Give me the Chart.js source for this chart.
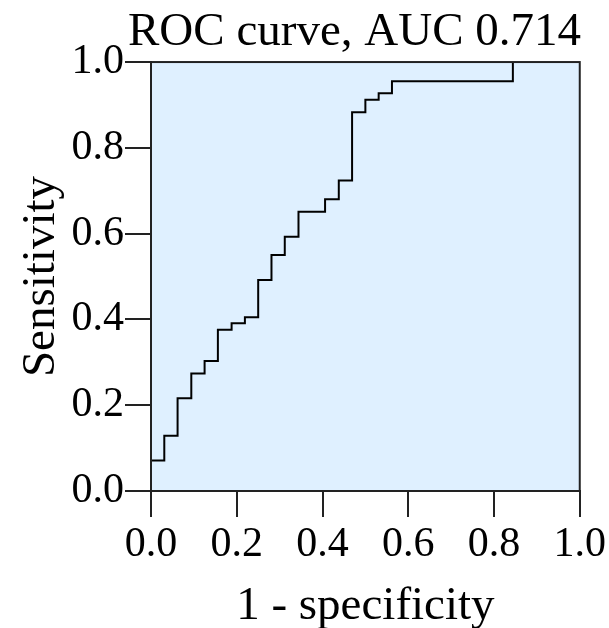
<!DOCTYPE html>
<html>
<head>
<meta charset="utf-8">
<script src="https://cdn.jsdelivr.net/npm/chart.js@4.4.1/dist/chart.umd.min.js"></script>
<style>
  html, body { margin: 0; padding: 0; background: #fff; }
  #wrap { position: relative; width: 609px; height: 628px; }
</style>
</head>
<body>
<div id="wrap"><canvas id="roc"></canvas></div>
<script>
// ROC points (corners of the step curve)
const fpr = [0, 0, 0.031, 0.062, 0.094, 0.125, 0.156, 0.188, 0.219, 0.25, 0.281, 0.312, 0.344, 0.406, 0.438, 0.469, 0.5, 0.531, 0.562, 0.844, 1.0];
const tpr = [0, 0.071, 0.129, 0.216, 0.274, 0.303, 0.376, 0.391, 0.405, 0.492, 0.55, 0.593, 0.651, 0.68, 0.724, 0.883, 0.912, 0.927, 0.955, 1.0, 1.0];
const tickValues = [0, 0.2, 0.4, 0.6, 0.8, 1.0];
const titleText = "ROC curve, AUC 0.714";

const serif = "'Liberation Serif', 'Times New Roman', serif";

// light blue plot background + frame
const plotFrame = {
    id: "plotFrame",
    beforeDatasetsDraw(chart) {
        const { ctx, chartArea: a } = chart;
        ctx.save();
        ctx.fillStyle = "#dff0ff";
        ctx.fillRect(a.left, a.top, a.right - a.left, a.bottom - a.top);
        ctx.restore();
    },
    afterDraw(chart) {
        const { ctx, chartArea: a } = chart;
        ctx.save();
        ctx.strokeStyle = "#222";
        ctx.lineWidth = 2;
        ctx.strokeRect(a.left, a.top, a.right - a.left, a.bottom - a.top);
        ctx.restore();
    }
};

const points = fpr.map((x, i) => ({ x: x, y: tpr[i] }));

const axisCommon = {
    type: "linear",
    min: 0,
    max: 1,
    afterBuildTicks: (s) => { s.ticks = tickValues.map(v => ({ value: v })); },
    ticks: {
        color: "#000",
        font: { family: serif, size: 42 },
        callback: (v) => Number(v).toFixed(1),
        maxRotation: 0,
        autoSkip: false
    },
    grid: {
        display: true,
        drawOnChartArea: false,
        drawTicks: true,
        tickLength: 26,
        color: "#222",
        lineWidth: 2
    },
    border: { display: true, color: "#222", width: 2 }
};

new Chart(document.getElementById("roc").getContext("2d"), {
    type: "line",
    data: {
        datasets: [{
            data: points,
            stepped: "before",
            borderColor: "#000",
            borderWidth: 2,
            pointRadius: 0,
            fill: false
        }]
    },
    options: {
        responsive: true,
        maintainAspectRatio: false,
        animation: false,
        events: [],
        layout: { padding: { left: 0, right: 28, top: 0, bottom: 0 } },
        plugins: {
            legend: { display: false },
            tooltip: { enabled: false },
            title: {
                display: true,
                align: "end",
                text: titleText,
                color: "#000",
                font: { family: serif, size: 47, weight: "normal", lineHeight: 1.15 },
                padding: { top: 6, bottom: 2 }
            }
        },
        scales: {
            x: {
                ...axisCommon,
                ticks: { ...axisCommon.ticks, padding: 3 },
                title: {
                    display: true,
                    text: "1 - specificity",
                    color: "#000",
                    font: { family: serif, size: 47, lineHeight: 0.9 },
                    padding: 0
                },
                afterFit: (s) => { s.height = 137; }
            },
            y: {
                ...axisCommon,
                ticks: { ...axisCommon.ticks, padding: 1 },
                title: {
                    display: true,
                    text: "Sensitivity",
                    color: "#000",
                    font: { family: serif, size: 47, lineHeight: 1 },
                    padding: { top: 18, bottom: 0 }
                },
                afterFit: (s) => { s.width = 151; }
            }
        }
    },
    plugins: [plotFrame]
});
</script>
</body>
</html>
